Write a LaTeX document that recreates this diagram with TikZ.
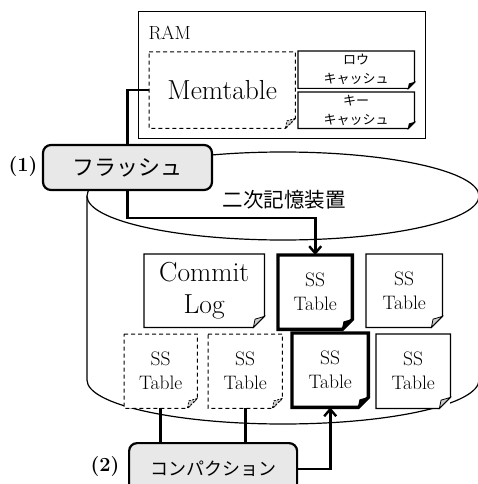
\documentclass[tikz,border=0pt]{standalone}
\usepackage{fontspec}
\newfontfamily\jpfont{Noto Sans CJK JP}
\usetikzlibrary{arrows.meta}

\pgfdeclarelayer{back}
\pgfdeclarelayer{links}
\pgfsetlayers{back,links,main}

% outline of a sheet with a folded bottom-right corner
\newcommand\sheetoutline[3]{%
  \draw[#3] (#1.north west) -- (#1.north east) -- ([yshift=#2]#1.south east)
    -- ([xshift=-#2]#1.south east) -- (#1.south west) -- cycle;}
% the folded flap of that corner
\newcommand\sheetflap[3]{%
  \filldraw[#3] ([yshift=#2]#1.south east)
    .. controls ([xshift=-0.5*#2,yshift=0.9*#2]#1.south east) .. ([xshift=-0.85*#2,yshift=0.75*#2]#1.south east)
    -- ([xshift=-#2]#1.south east) -- cycle;}

\tikzset{
  sheet/.style={draw=none, fill=white, inner sep=0pt, anchor=north west, align=center},
  latinbig/.style={font=\fontsize{27.5}{32}\selectfont},
  latinmid/.style={font=\fontsize{19.5}{24}\selectfont},
  jpsmall/.style={font=\jpfont\fontsize{13}{19}\selectfont},
  thin line/.style={line width=1.2pt},
  thick line/.style={line width=3.4pt, line join=miter},
  dash line/.style={line width=1pt, dash pattern=on 4pt off 3pt},
  flap light/.style={line width=0.8pt, fill=gray!40},
  flap dark/.style={line width=1pt, fill=black},
  flap dash/.style={line width=0.8pt, fill=gray!40, dash pattern=on 2pt off 1.5pt},
  action/.style={draw, line width=2.2pt, rounded corners=8pt, fill=gray!18,
    inner sep=0pt, align=center},
  conn/.style={line width=2.6pt},
  arrowconn/.style={conn, -{Straight Barb[length=7pt, width=12pt, line width=2.4pt]}},
  steplabel/.style={font=\bfseries\fontsize{20}{22}\selectfont},
}

\begin{document}
\begin{tikzpicture}[x=1pt, y=-1pt]
\useasboundingbox (0,0) rectangle (478,484);
\clip (0,0) rectangle (478,484);

% secondary storage cylinder
\begin{pgfonlayer}{back}
  \fill[white] (87,196) rectangle (479,380);
  \filldraw[fill=white, thin line] (87,196) -- (87,380)
    arc[start angle=180, end angle=360, x radius=196pt, y radius=44pt] -- (479,196);
  \filldraw[fill=white, thin line] (283,196) ellipse[x radius=196pt, y radius=44pt];
\end{pgfonlayer}
\node[font=\jpfont\fontsize{20.5}{24}\selectfont] (storage) at (284,200) {二次記憶装置};

% RAM
\node[draw, thin line, anchor=north west, minimum width=287pt, minimum height=127pt,
  inner sep=0pt] (ram) at (138,11) {};
\node[anchor=west, font=\fontsize{19}{22}\selectfont] (ramlabel) at (145,33) {RAM};

\node[sheet, latinbig, minimum width=146pt, minimum height=76pt] (mem) at (149,52) {Memtable};
\sheetoutline{mem}{10pt}{dash line}
\sheetflap{mem}{10pt}{flap dash}

\node[sheet, jpsmall, minimum width=116pt, minimum height=37pt] (rowcache) at (298,51) {ロウ\\キャッシュ};
\sheetoutline{rowcache}{6pt}{thin line}
\sheetflap{rowcache}{6pt}{flap dark}
\node[sheet, jpsmall, minimum width=116pt, minimum height=36pt] (keycache) at (298,92) {キー\\キャッシュ};
\sheetoutline{keycache}{6pt}{thin line}
\sheetflap{keycache}{6pt}{flap dark}

% files on disk
\node[sheet, latinbig, minimum width=120pt, minimum height=73pt] (commit) at (144,254) {Commit\\Log};
\sheetoutline{commit}{11pt}{thin line}
\sheetflap{commit}{11pt}{flap light}

\node[sheet, latinmid, minimum width=74pt, minimum height=74pt] (ssA) at (278,255) {SS\\Table};
\sheetoutline{ssA}{10pt}{thick line}
\sheetflap{ssA}{10pt}{flap dark}

\node[sheet, latinmid, minimum width=76pt, minimum height=73pt] (ssB) at (366,254) {SS\\Table};
\sheetoutline{ssB}{11pt}{thin line}
\sheetflap{ssB}{11pt}{flap light}

\node[sheet, latinmid, minimum width=73pt, minimum height=74pt] (ssC) at (124,334) {SS\\Table};
\sheetoutline{ssC}{10pt}{dash line}
\sheetflap{ssC}{10pt}{flap dash}

\node[sheet, latinmid, minimum width=74pt, minimum height=74pt] (ssD) at (208,334) {SS\\Table};
\sheetoutline{ssD}{10pt}{dash line}
\sheetflap{ssD}{10pt}{flap dash}

\node[sheet, latinmid, minimum width=76pt, minimum height=74pt] (ssE) at (292,333) {SS\\Table};
\sheetoutline{ssE}{10pt}{thick line}
\sheetflap{ssE}{10pt}{flap dark}

\node[sheet, latinmid, minimum width=74pt, minimum height=74pt] (ssF) at (376,334) {SS\\Table};
\sheetoutline{ssF}{11pt}{thin line}
\sheetflap{ssF}{11pt}{flap light}

% actions
\node[action, font=\jpfont\fontsize{22}{26}\selectfont, minimum width=169pt,
  minimum height=45pt] (flush) at (127.5,167.5) {フラッシュ};
\node[steplabel] (step1) at (23,167) {(1)};

\node[action, font=\jpfont\fontsize{18}{22}\selectfont, minimum width=168pt,
  minimum height=52pt, anchor=north west] (compact) at (128,442) {\raisebox{-2pt}{コンパクション}};
\node[steplabel] (step2) at (105,467) {(2)};

% connectors
\coordinate (fbend) at (ssA.north |- 0,218);
\begin{pgfonlayer}{links}
  \draw[arrowconn] (mem.west) -| (flush.north) -- (flush.south) |- (fbend) -- (ssA.north);
  \draw[conn] (ssC.south) -- (ssC.south |- compact.north);
  \draw[conn] (ssD.south) -- (ssD.south |- compact.north);
\end{pgfonlayer}
\draw[arrowconn] (compact.east) -| (ssE.south);
\end{tikzpicture}
\end{document}
